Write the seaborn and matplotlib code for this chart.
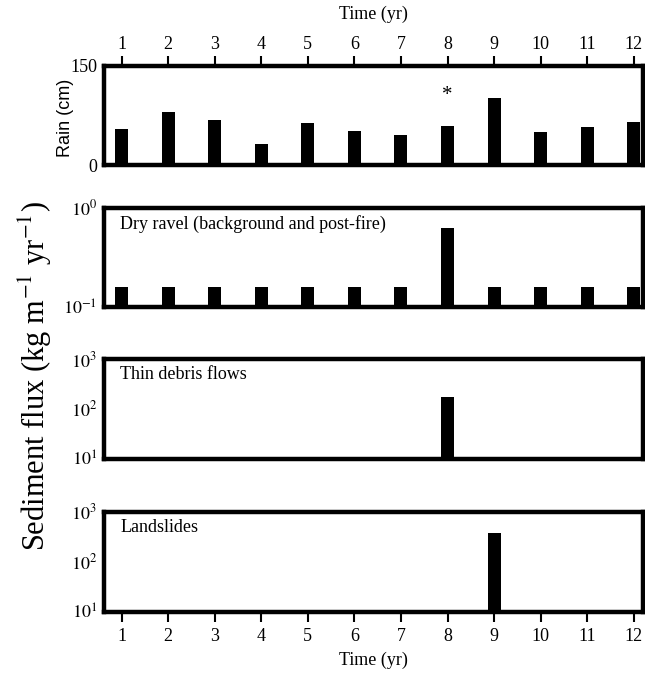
import numpy as np
import pandas as pd
import matplotlib
matplotlib.use("Agg")
import matplotlib.pyplot as plt
import seaborn as sns

sns.set_style("white")
plt.rcParams["font.family"] = ["Liberation Serif", "DejaVu Serif"]
plt.rcParams["mathtext.fontset"] = "stix"
plt.rcParams["text.color"] = "black"
plt.rcParams["xtick.color"] = "black"
plt.rcParams["ytick.color"] = "black"

# data
years = [1, 2, 3, 4, 5, 6, 7, 8, 9, 10, 11, 12]
rain = [54, 80, 68, 31, 63, 52, 45, 59, 101, 50, 57, 65]
dry_ravel = [0.16, 0.16, 0.16, 0.16, 0.16, 0.16, 0.16, 0.63, 0.16, 0.16, 0.16, 0.16]
debris_flows = [0, 0, 0, 0, 0, 0, 0, 170, 0, 0, 0, 0]
landslides = [0, 0, 0, 0, 0, 0, 0, 0, 370, 0, 0, 0]
fire_year = 8
fire_marker_y = 105

W, H = 645, 674
fig = plt.figure(figsize=(W / 100, H / 100), dpi=100)

# panel boxes in pixels (top, bottom), measured from the top of the image
boxes = [(65.5, 165), (207.7, 306.8), (359, 458.5), (511.7, 611.7)]
left_px, right_px = 104, 643
axes = []
for top, bot in boxes:
    ax = fig.add_axes([left_px / W, 1 - bot / H, (right_px - left_px) / W, (bot - top) / H])
    axes.append(ax)

panels = [
    (rain, None, (0, 150), [0, 150], ["0", "150"]),
    (dry_ravel, "Dry ravel (background and post-fire)", (0.1, 1), [0.1, 1],
     [r"$10^{-1}$", r"$10^{0}$"]),
    (debris_flows, "Thin debris flows", (10, 1000), [10, 100, 1000],
     [r"$10^{1}$", r"$10^{2}$", r"$10^{3}$"]),
    (landslides, "Landslides", (10, 1000), [10, 100, 1000],
     [r"$10^{1}$", r"$10^{2}$", r"$10^{3}$"]),
]

for i, (ax, (vals, label, ylim, yticks, yticklabels)) in enumerate(zip(axes, panels)):
    df = pd.DataFrame({"year": years, "value": vals})
    df = df[df["value"] > 0]
    sns.barplot(data=df, x="year", y="value", native_scale=True, width=0.28,
                color="black", saturation=1, errorbar=None, linewidth=0, ax=ax)
    if i > 0:
        ax.set_yscale("log")
        ax.minorticks_off()
    ax.set_xlim(0.62, 12.2)
    ax.set_ylim(*ylim)
    ax.set_yticks(yticks)
    ax.set_yticklabels(yticklabels)
    ax.set_xlabel("")
    ax.set_ylabel("")
    for sp in ax.spines.values():
        sp.set_visible(True)
        sp.set_linewidth(3.2)
        sp.set_color("black")
    ax.tick_params(axis="y", length=0, pad=5, labelsize=13)
    ax.set_xticks(years)
    if label:
        ax.text(0.03, 0.84, label, transform=ax.transAxes, fontsize=13,
                ha="left", va="center")
    if i == 0:
        ax.xaxis.tick_top()
        ax.tick_params(axis="x", top=True, bottom=False, length=7, width=1.5,
                       pad=2, labelsize=13, direction="out")
    elif i == 3:
        ax.tick_params(axis="x", bottom=True, top=False, length=7, width=1.5,
                       pad=5, labelsize=13, direction="out")
    else:
        ax.tick_params(axis="x", bottom=False, top=False, labelbottom=False)

axes[0].text(fire_year, fire_marker_y, "*", fontsize=15, ha="center", va="center")

fig.text(0.5 * (left_px + right_px) / W, 1 - 14 / H, "Time (yr)",
         fontsize=13, ha="center", va="center")
fig.text(0.5 * (left_px + right_px) / W, 1 - 660 / H, "Time (yr)",
         fontsize=13, ha="center", va="center")
fig.text(65 / W, 1 - 118 / H, "Rain (cm)", rotation=90, fontsize=13,
         family=["Liberation Sans", "DejaVu Sans"], ha="center", va="center")
fig.text(35 / W, 1 - 376 / H, r"Sediment flux (kg m$^{-1}$ yr$^{-1}$)",
         rotation=90, fontsize=22, ha="center", va="center")

fig.savefig("out.png", dpi=100)
